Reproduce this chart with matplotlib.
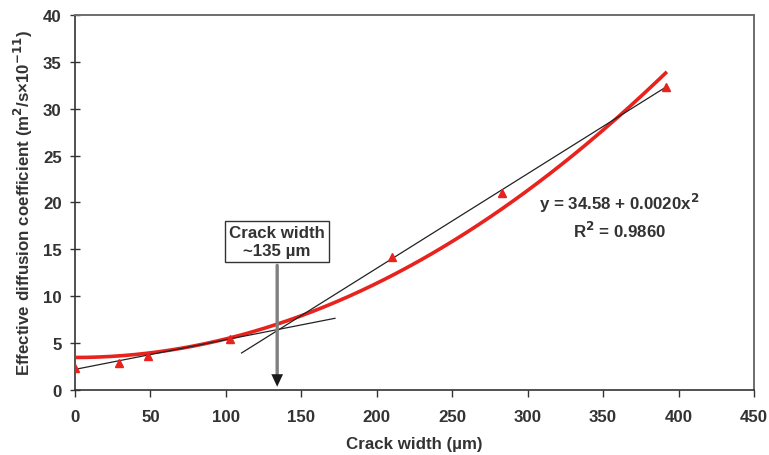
import numpy as np
import matplotlib
matplotlib.use("Agg")
import matplotlib.pyplot as plt

plt.rcParams['font.family'] = ['Liberation Sans', 'DejaVu Sans']
plt.rcParams['font.weight'] = 'bold'

# measured points (crack width in um, De in m2/s x 1e-11)
crack_width = [0, 29.4, 48.6, 102.7, 210.3, 282.7, 392]
diff_coef = [2.3, 2.85, 3.66, 5.44, 14.15, 21.0, 32.35]

# quadratic fit y = a + b x^2 (red curve)
fit_a = 3.47
fit_b = 0.000198
fit_x_max = 391.4

# two straight tangent lines (start, end)
line1_x = [0, 172.3]
line1_y = [2.2, 7.65]
line2_x = [110.4, 392]
line2_y = [3.95, 32.35]

# arrow marking the transition
crack_mark = 134
box_text = "Crack width\n~135 µm"
eq_text = "y = 34.58 + 0.0020x$^\\mathbf{2}$\nR$^\\mathbf{2}$ = 0.9860"

fs = 12.2
txt_col = '#333333'

fig = plt.figure(figsize=(7.69, 4.56), dpi=100)
ax = fig.add_axes([0.0975, 0.1425, 0.883, 0.8225])

xs = np.linspace(0, fit_x_max, 200)
ax.plot(xs, fit_a + fit_b * xs**2, color='#e8231e', lw=2.6, zorder=3)

ax.plot(line1_x, line1_y, color='#222222', lw=0.9, zorder=4)
ax.plot(line2_x, line2_y, color='#222222', lw=0.9, zorder=4)

ax.plot(crack_width, diff_coef, linestyle='none', marker='^', ms=6,
        color='#e8231e', zorder=5)

# arrow with text box
ax.annotate('', xy=(crack_mark, 1.5), xytext=(crack_mark, 13.3),
            arrowprops=dict(arrowstyle='-', color='#808080', lw=2.4,
                            shrinkA=0, shrinkB=0),
            zorder=6)
ax.annotate('', xy=(crack_mark, 0.35), xytext=(crack_mark, 2.2),
            arrowprops=dict(arrowstyle='-|>,head_length=0.9,head_width=0.42',
                            color='#1a1a1a', lw=0.01, shrinkA=0, shrinkB=0),
            zorder=7)
ax.text(crack_mark, 15.85, box_text, ha='center', va='center', fontsize=fs,
        fontweight='bold', color=txt_col, linespacing=1.25,
        bbox=dict(boxstyle='square,pad=0.25', fc='white', ec=txt_col, lw=1),
        zorder=8)

ax.text(361, 18.6, eq_text, ha='center', va='center', fontsize=fs,
        fontweight='bold', color=txt_col, linespacing=1.35)

ax.set_xlim(0, 450)
ax.set_ylim(0, 40)
ax.set_xticks(np.arange(0, 451, 50))
ax.set_yticks(np.arange(0, 41, 5))
ax.tick_params(axis='x', direction='out', length=5, width=1, labelsize=fs,
               colors=txt_col, pad=9)
ax.tick_params(axis='y', direction='inout', length=7, width=1, labelsize=fs,
               colors=txt_col, pad=6)
for lab in ax.get_xticklabels() + ax.get_yticklabels():
    lab.set_fontweight('bold')

for side in ['left', 'bottom']:
    ax.spines[side].set_color(txt_col)
    ax.spines[side].set_linewidth(1.2)
for side in ['top', 'right']:
    ax.spines[side].set_color('#6e6e6e')
    ax.spines[side].set_linewidth(1.4)

ax.set_xlabel('Crack width (µm)', fontsize=fs, fontweight='bold',
              color=txt_col, labelpad=8)
ax.set_ylabel('Effective diffusion coefficient (m$^\\mathbf{2}$/s×10$^\\mathbf{-11}$)',
              fontsize=fs, fontweight='bold', color=txt_col, labelpad=6)

fig.savefig('out.png', dpi=100)
